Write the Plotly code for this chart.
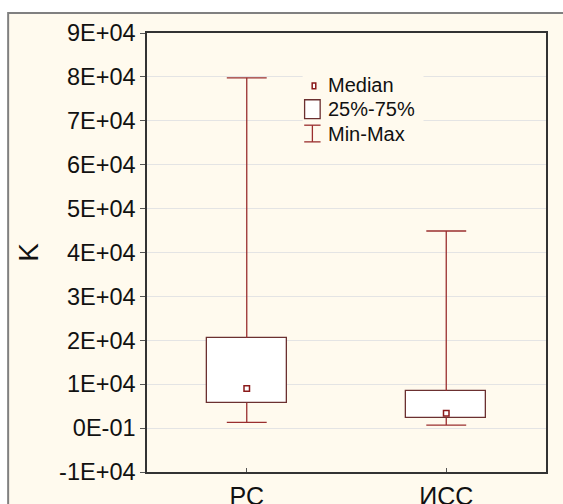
import plotly.graph_objects as go

categories = ["PC", "ИСС"]
x_pos = [0, 1]
v_min = [1300, 700]
v_q1 = [5800, 2400]
v_median = [9000, 3400]
v_q3 = [20500, 8500]
v_max = [79800, 44900]

y_tickvals = [-10000, 0, 10000, 20000, 30000, 40000, 50000, 60000, 70000, 80000, 90000]
y_ticktext = ["-1E+04", "0E-01", "1E+04", "2E+04", "3E+04", "4E+04", "5E+04",
              "6E+04", "7E+04", "8E+04", "9E+04"]

WHISK = "#9a2e2e"
BOXC = "#6b3030"
MEDC = "#8b1a1a"
FONT = "Liberation Sans, Arial, sans-serif"

fig = go.Figure()

# whiskers (vertical parts)
wx, wy = [], []
for x, lo, q1, q3, hi in zip(x_pos, v_min, v_q1, v_q3, v_max):
    wx += [x, x, None, x, x, None]
    wy += [hi, q3, None, q1, lo, None]
fig.add_trace(go.Scatter(x=wx, y=wy, mode="lines", line=dict(color=WHISK, width=1.3),
                         showlegend=False, hoverinfo="skip"))
# caps
cx, cy = [], []
for x, lo, hi in zip(x_pos, v_min, v_max):
    cx += [x - 0.1, x + 0.1, None, x - 0.1, x + 0.1, None]
    cy += [hi, hi, None, lo, lo, None]
fig.add_trace(go.Scatter(x=cx, y=cy, mode="lines", line=dict(color=WHISK, width=1.3),
                         showlegend=False, hoverinfo="skip"))
# boxes
fig.add_trace(go.Bar(x=x_pos, y=[b - a for a, b in zip(v_q1, v_q3)], base=v_q1, width=0.4,
                     marker=dict(color="white", line=dict(color=BOXC, width=1.3)),
                     showlegend=False, hoverinfo="skip"))
# medians
fig.add_trace(go.Scatter(x=x_pos, y=v_median, mode="markers",
                         marker=dict(symbol="square-open", size=5.5, color=MEDC,
                                     line=dict(width=1.5, color=MEDC)),
                         showlegend=False, hoverinfo="skip"))

shapes = [
    # outer cream frame
    dict(type="rect", xref="paper", yref="paper", layer="below",
         x0=-0.348, x1=1.2, y0=-0.2, y1=1.0456,
         fillcolor="#fffaee", line=dict(color="#808080", width=2)),
    # legend background
    dict(type="rect", xref="paper", yref="paper", layer="above",
         x0=0.39, x1=0.693, y0=0.74, y1=0.913,
         fillcolor="#fffaee", line=dict(width=0)),
    # legend median icon
    dict(type="rect", xref="paper", yref="paper", layer="above",
         x0=0.414, x1=0.423, y0=0.873, y1=0.886,
         fillcolor="white", line=dict(color=MEDC, width=1.5)),
    # legend box icon
    dict(type="rect", xref="paper", yref="paper", layer="above",
         x0=0.395, x1=0.434, y0=0.805, y1=0.848,
         fillcolor="white", line=dict(color=BOXC, width=1.3)),
    # legend min-max icon
    dict(type="line", xref="paper", yref="paper", layer="above",
         x0=0.4145, x1=0.4145, y0=0.752, y1=0.79, line=dict(color=WHISK, width=1.3)),
    dict(type="line", xref="paper", yref="paper", layer="above",
         x0=0.394, x1=0.435, y0=0.79, y1=0.79, line=dict(color=WHISK, width=1.3)),
    dict(type="line", xref="paper", yref="paper", layer="above",
         x0=0.394, x1=0.435, y0=0.752, y1=0.752, line=dict(color=WHISK, width=1.3)),
]

legend_labels = ["Median", "25%-75%", "Min-Max"]
legend_y = [0.881, 0.827, 0.77]
annotations = [dict(xref="paper", yref="paper", x=0.449, y=yy, text=t, showarrow=False,
                    xanchor="left", yanchor="middle",
                    font=dict(family=FONT, size=20, color="#111111"))
               for t, yy in zip(legend_labels, legend_y)]

fig.update_layout(
    width=563, height=504, autosize=False,
    margin=dict(l=147, r=17, t=33, b=32, autoexpand=False),
    paper_bgcolor="white", plot_bgcolor="white",
    shapes=shapes, annotations=annotations,
    showlegend=False, bargap=0,
    font=dict(family=FONT, color="#111111"),
)
fig.update_xaxes(range=[-0.5, 1.5], tickvals=x_pos, ticktext=categories,
                 tickfont=dict(size=25, family=FONT, color="#111111"),
                 showgrid=False, zeroline=False, automargin=False,
                 showline=True, linecolor="#333333", linewidth=1.5, mirror=True,
                 ticks="inside", ticklen=4, tickcolor="#555555",
                 ticklabelstandoff=1)
fig.update_yaxes(range=[-10000, 90000], tickvals=y_tickvals, ticktext=y_ticktext,
                 tickfont=dict(size=23.5, family=FONT, color="#111111"),
                 showgrid=True, gridcolor="#e4e4e4", gridwidth=1.3, zeroline=False,
                 automargin=False,
                 showline=True, linecolor="#333333", linewidth=1.5, mirror=True,
                 ticks="outside", ticklen=5, tickcolor="#555555",
                 title=dict(text="K", font=dict(size=28, family=FONT, color="#111111"),
                            standoff=12))

fig.write_html("out.html", config={"responsive": False, "displayModeBar": False},
               post_script="document.body.style.margin='0';document.body.style.overflow='hidden';")
